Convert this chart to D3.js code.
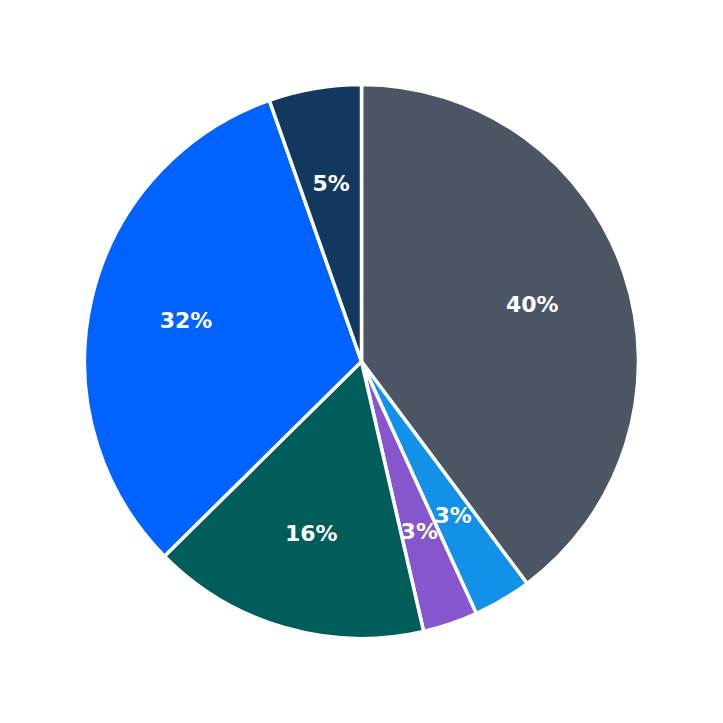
<!DOCTYPE html>
<html>
<head>
<meta charset="utf-8">
<script src="https://cdn.jsdelivr.net/npm/d3@7"></script>
<style>
  body { margin: 0; background: #fff; }
</style>
</head>
<body>
<svg width="723" height="723"></svg>
<script>
  // slice values, clockwise from 12 o'clock
  var labels = ["40%", "3%", "3%", "16%", "32%", "5%"];
  var values = [39.8, 3.4, 3.2, 16.2, 32.0, 5.4];
  var colors = ["#4c5564", "#1192e8", "#8657cc", "#005d5a", "#0062ff", "#13385f"];

  var config = {
    cx: 361.5,
    cy: 361.5,
    radius: 277,
    labelRadius: 180
  };

  var svg = d3.select("svg");
  var g = svg.append("g")
      .attr("transform", "translate(" + config.cx + "," + config.cy + ")");

  var pie = d3.pie().sort(null).value(function(d) { return d; });
  var arcs = pie(values);

  var arc = d3.arc().innerRadius(0).outerRadius(config.radius);
  var labelArc = d3.arc().innerRadius(config.labelRadius).outerRadius(config.labelRadius);

  g.selectAll("path")
      .data(arcs)
      .enter().append("path")
      .attr("d", arc)
      .attr("fill", function(d, i) { return colors[i]; })
      .attr("stroke", "#fff")
      .attr("stroke-width", 3.5)
      .attr("stroke-linejoin", "round");

  g.selectAll("text")
      .data(arcs)
      .enter().append("text")
      .attr("transform", function(d) { return "translate(" + labelArc.centroid(d) + ")"; })
      .attr("text-anchor", "middle")
      .attr("dy", "0.32em")
      .attr("fill", "#fff")
      .style("font-family", "DejaVu Sans")
      .style("font-weight", "bold")
      .style("font-size", "22px")
      .text(function(d, i) { return labels[i]; });
</script>
</body>
</html>
